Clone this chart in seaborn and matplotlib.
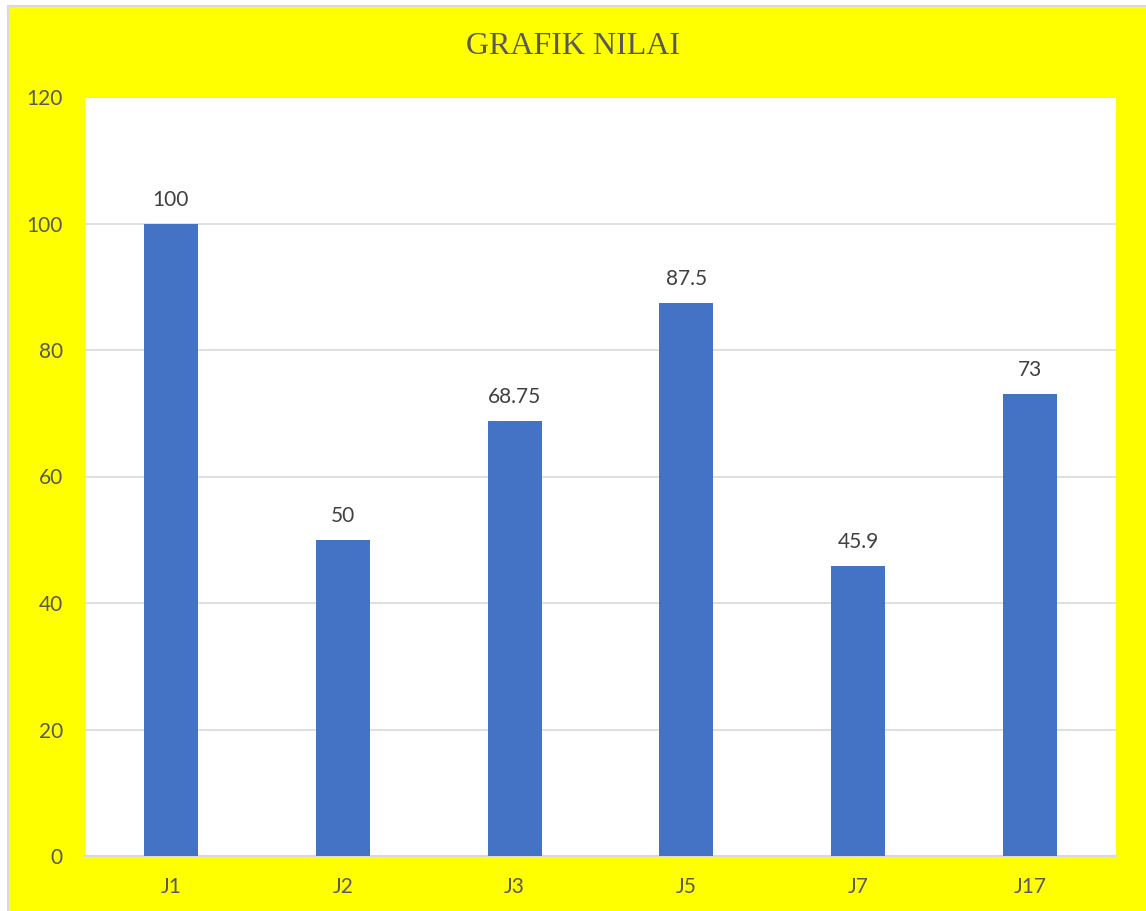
import matplotlib
matplotlib.use('Agg')
import matplotlib.pyplot as plt
from matplotlib.patches import Rectangle
import seaborn as sns
import pandas as pd

# Data nilai per kategori
kategori = ['J1', 'J2', 'J3', 'J5', 'J7', 'J17']
nilai = [100, 50, 68.75, 87.5, 45.9, 73]
label_nilai = ['100', '50', '68.75', '87.5', '45.9', '73']
yticks = [0, 20, 40, 60, 80, 100, 120]

df = pd.DataFrame({'kategori': kategori, 'nilai': nilai})

sns.set_theme(style='white')
plt.rcParams['font.family'] = ['Lato', 'DejaVu Sans']

fig = plt.figure(figsize=(11.46, 9.11), dpi=100, facecolor='white')
# Latar kuning dengan garis abu-abu tipis
fig.patches.append(Rectangle((8 / 1146, -0.01), 1.0, 1 - 6 / 911 + 0.01,
                             transform=fig.transFigure, facecolor='#FFFF00',
                             edgecolor='#D9D9D9', linewidth=1.5, zorder=-1))

ax = fig.add_axes([85 / 1146, 1 - 856 / 911, (1116 - 85) / 1146, (856 - 97) / 911])
ax.set_facecolor('white')

sns.barplot(data=df, x='kategori', y='nilai', color='#4472C4', width=0.315,
            saturation=1, linewidth=0, ax=ax, zorder=3)

ax.set_ylim(0, 120)
ax.set_yticks(yticks)
ax.yaxis.grid(True, color='#D9D9D9', linewidth=1.2, zorder=0)
ax.set_axisbelow(True)
for s in ['top', 'right', 'left']:
    ax.spines[s].set_visible(False)
ax.spines['bottom'].set_color('#D9D9D9')
ax.spines['bottom'].set_linewidth(1.5)

ax.tick_params(axis='both', length=0, labelsize=15, labelcolor='#595959')
ax.tick_params(axis='y', pad=16)
ax.tick_params(axis='x', pad=15)
ax.set_xlabel('')
ax.set_ylabel('')

for i, (v, lbl) in enumerate(zip(nilai, label_nilai)):
    ax.annotate(lbl, (i, v), xytext=(0, 10), textcoords='offset points',
                ha='center', va='bottom', fontsize=15, color='#404040')

fig.text(0.5, 1 - 46 / 911, 'GRAFIK NILAI', ha='center', va='center',
         fontsize=23, color='#595959', family=['Liberation Serif', 'DejaVu Serif'])

fig.savefig('out.png', dpi=100, facecolor=fig.get_facecolor())
